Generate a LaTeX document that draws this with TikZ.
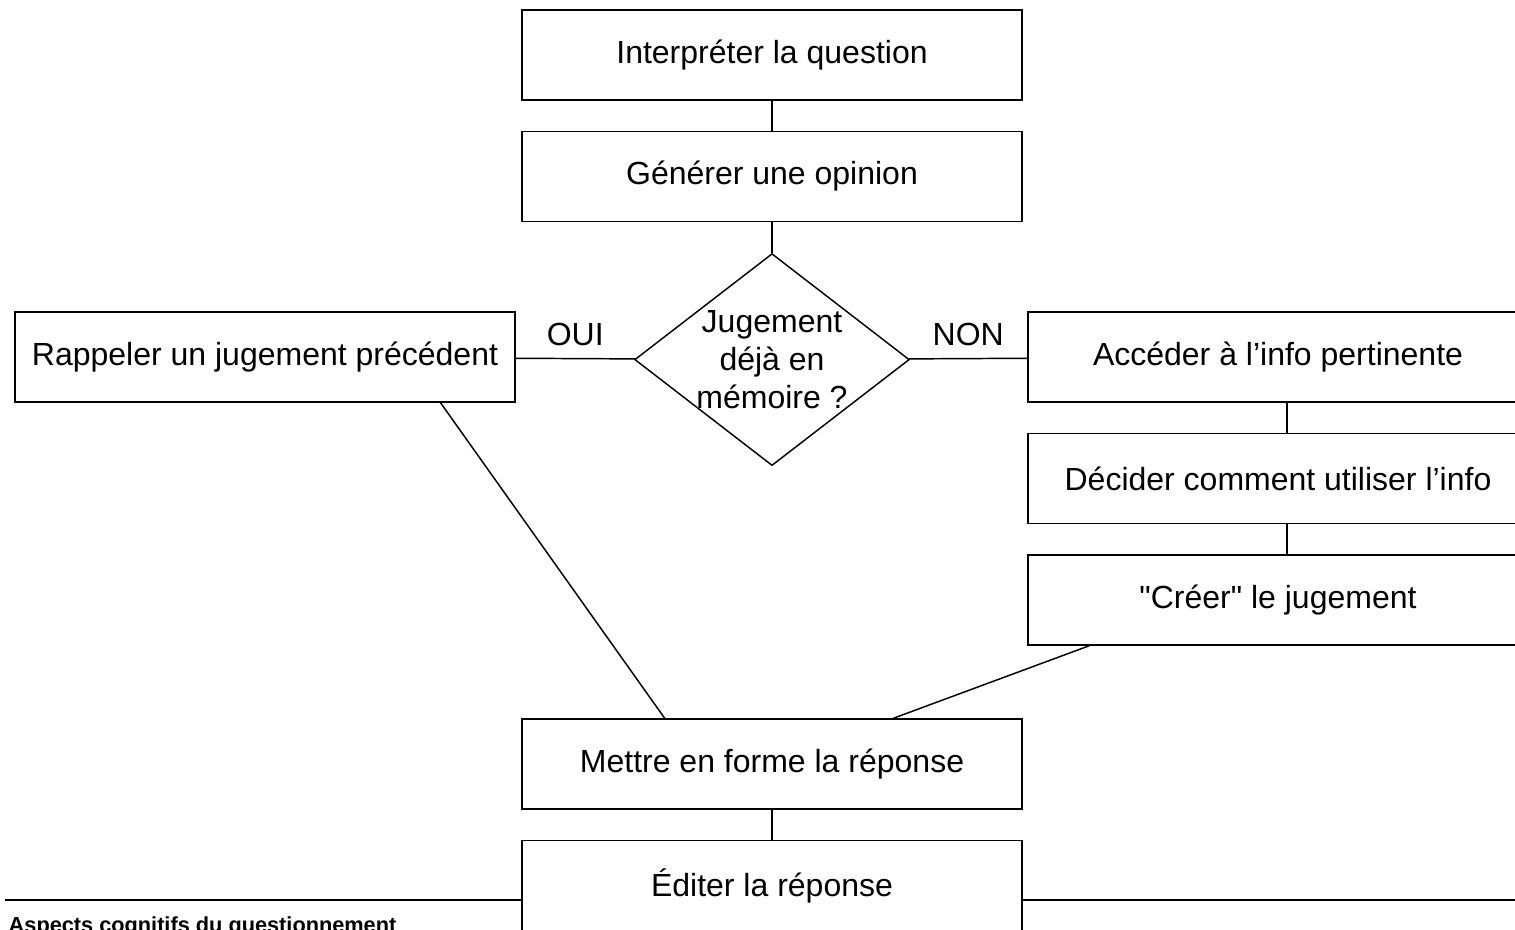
\documentclass[tikz,border=0pt]{standalone}
\usepackage{fontspec}
\setmainfont{Liberation Sans}
\usetikzlibrary{shapes.geometric,positioning,calc}

\begin{document}
\begin{tikzpicture}[
        x=0.75pt, y=-0.75pt,
        line width=1.1pt,
        node distance=22.5pt,
        every node/.style={font=\fontsize{24}{28.5}\selectfont},
        box/.style={draw, rectangle, minimum width=375pt, minimum height=67.5pt, inner sep=0pt},
        decision/.style={draw, diamond, minimum width=206pt, minimum height=159pt, inner sep=0pt}
        ]
    \useasboundingbox (0,0) rectangle (1515,930);
    \clip (0,0) rectangle (1515,930);

    % Main column
    \node[box] (interp) at (772,55) {Interpréter la question};
    \node[box, below=of interp] (opinion) {Générer une opinion};
    \node[decision, below=23pt of opinion] (dec) {};
    \node[align=center, inner sep=0pt] (decq) at (dec) {Jugement\\déjà en\\mémoire ?};

    % Branches
    \node[box] (recall) at (265,357) {Rappeler un jugement précédent};
    \node[box] (access) at (1278,357) {Accéder à l’info pertinente};
    \node[box, below=of access] (decide) {Décider comment utiliser l’info};
    \node[box, below=of decide] (create) {\textquotedbl Créer\textquotedbl{} le jugement};

    % Output
    \node[box] (format) at (772,764) {Mettre en forme la réponse};
    \node[box, below=of format] (edit) {Éditer la réponse};

    % Footer
    \coordinate (footL) at (5,900);
    \coordinate (footR) at (1515,900);
    \node[anchor=base west, inner sep=0pt, font=\bfseries\fontsize{16.3}{19}\selectfont] (caption) at (8,932) {Aspects cognitifs du questionnement};

    % Edges
    \draw (interp) -- (opinion);
    \draw (opinion) -- (dec);
    \draw (dec) -- node[above=6pt] (oui) {OUI} (recall);
    \draw (dec) -- node[above=6pt] (non) {NON} (access);
    \draw ($(access.south)+(9,0)$) -- ($(decide.north)+(9,0)$);
    \draw ($(decide.south)+(9,0)$) -- ($(create.north)+(9,0)$);
    \draw ($(recall.south west)!0.85!(recall.south east)$) -- ($(format.north west)!0.286!(format.north east)$);
    \draw ($(create.south west)!0.124!(create.south east)$) -- ($(format.north west)!0.742!(format.north east)$);
    \draw (format) -- (edit);
    \draw[line width=1.6pt] (footL) -- (footL -| edit.west);
    \draw[line width=1.6pt] (edit.east |- footR) -- (footR);

\end{tikzpicture}
\end{document}
